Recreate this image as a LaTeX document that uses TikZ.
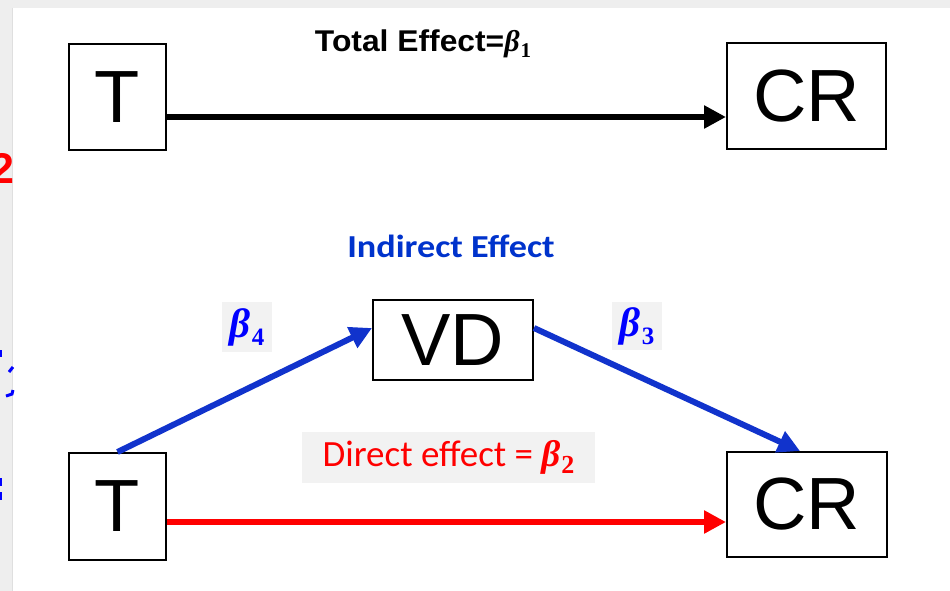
\documentclass[tikz,border=0pt]{standalone}
\usepackage{fontspec}
\setmainfont{Liberation Sans}
\newfontfamily\calib{Carlito}
\newfontfamily\cambr{Liberation Serif}
\usetikzlibrary{arrows.meta}
\definecolor{arrblue}{RGB}{17,51,204}
\definecolor{indblue}{RGB}{0,51,204}
\definecolor{betablue}{RGB}{0,0,255}
\definecolor{labelgray}{RGB}{242,242,242}
\definecolor{edgegray}{RGB}{238,238,238}
\newcommand{\bbeta}[2]{{\cambr\bfseries\itshape β\kern0.03em\raisebox{-0.2em}{\upshape\fontsize{#2}{#2}\selectfont #1}}}
\begin{document}
\begin{tikzpicture}[x=1pt,y=-1pt,
  box/.style={draw=black, line width=2pt, fill=white, inner sep=0pt,
    font=\fontsize{74}{74}\selectfont},
  arr/.style={line width=6pt, -{Triangle[length=22pt,width=22pt]}},
  glabel/.style={fill=labelgray, inner sep=0pt, anchor=center}]
\useasboundingbox (0,0) rectangle (950,591);
\fill[white] (0,0) rectangle (950,591);
% frame strips of the screenshot
\fill[edgegray] (0,0) rectangle (950,8);
\fill[edgegray] (0,0) rectangle (13,591);
\draw[gray!25, line width=1pt] (12.5,8) -- (12.5,591);
% cut-off fragments at the left edge
\node[anchor=east, text=red, inner sep=0pt, font=\fontsize{43}{43}\bfseries\selectfont] (frag) at (15,168) {2};
\draw[betablue, line width=3pt] (9,372) -- (13,367);
\draw[betablue, line width=3pt] (6,396) -- (12,394) -- (13,390);
\draw[betablue, line width=2.5pt] (1,350) -- (1,357);
\draw[betablue, line width=2.5pt] (1,478) -- (1,486);
\draw[betablue, line width=2.5pt] (1,492) -- (1,500);

% boxes
\node[box, minimum width=97pt, minimum height=106pt] (t1) at (117.5,97) {T};
\node[box, minimum width=159pt, minimum height=106pt] (c1) at (806.5,96) {CR};
\node[box, minimum width=160pt, minimum height=80pt] (vd) at (453,340) {VD};
\node[box, minimum width=97pt, minimum height=107pt] (t2) at (117.5,506.5) {T};
\node[box, minimum width=160pt, minimum height=105pt] (c2) at (807,504.5) {CR};

\coordinate (ya) at (0,117);
\coordinate (yr) at (0,522);

% arrows
\draw[arr, black] (t1.east |- ya) -- (c1.west |- ya);
\draw[arr, red] (t2.east |- yr) -- (c2.west |- yr);
\draw[arr, arrblue] (t2.north) -- ([yshift=12pt]vd.west);
\draw[arr, arrblue] ([yshift=12pt]vd.east) -- ([xshift=-7pt]c2.north);

% labels
\node[inner sep=0pt, font=\fontsize{30}{30}\bfseries\selectfont] (lt) at (423,44)
  {\scalebox{1.06}[1]{Total Effect=}\bbeta{1}{21}};
\node[inner sep=0pt, text=indblue, font=\calib\fontsize{32}{32}\bfseries\selectfont] (li) at (451,246)
  {\scalebox{1.13}[1]{Indirect Effect}};
\node[glabel, minimum width=50pt, minimum height=50pt, text=betablue, font=\fontsize{41}{41}\selectfont] (b4) at (247,327) {\bbeta{4}{25}};
\node[glabel, minimum width=50pt, minimum height=48pt, text=betablue, font=\fontsize{41}{41}\selectfont] (b3) at (637,326) {\bbeta{3}{25}};
\node[glabel, minimum width=293pt, minimum height=51pt, text=red, font=\fontsize{37}{37}\selectfont] (ld) at (448.5,457.5)
  {{\calib Direct effect = }\bbeta{2}{26}};
\end{tikzpicture}
\end{document}
